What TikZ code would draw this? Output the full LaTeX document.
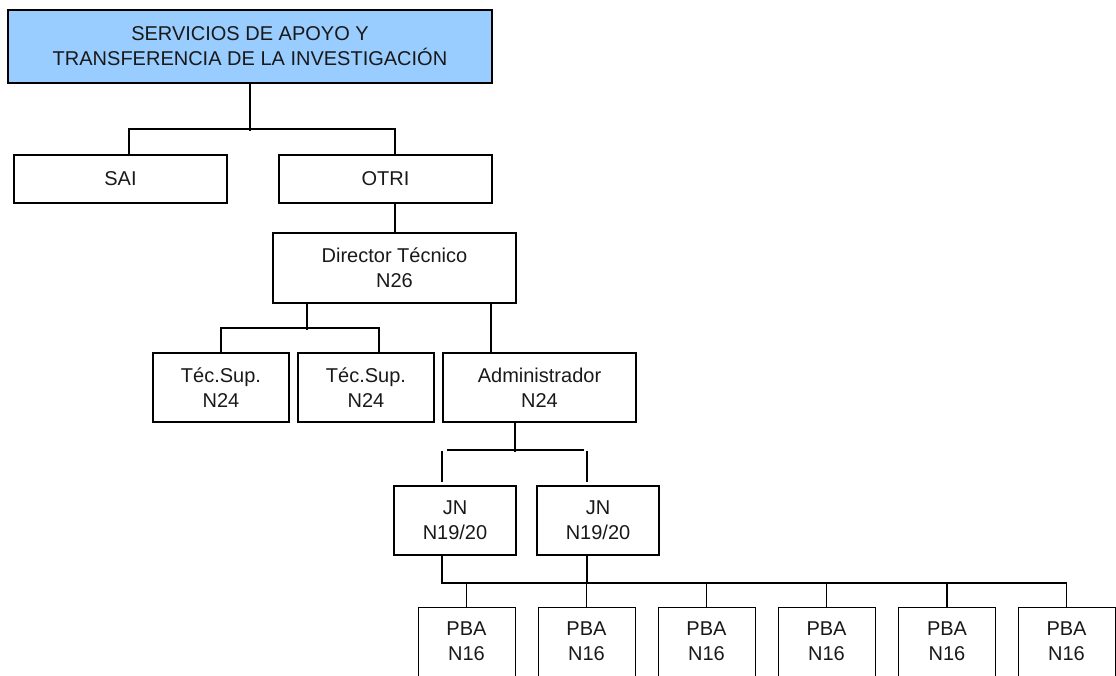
\documentclass[tikz,border=0pt]{standalone}
\usepackage{fontspec}
\setmainfont{Liberation Sans}
\definecolor{headblue}{HTML}{99CCFF}
\begin{document}
\begin{tikzpicture}[x=1pt,y=-1pt,
  unit/.style={draw=black, line width=2pt, inner sep=0pt, align=center,
    font=\fontsize{20}{25}\selectfont, text=black!90},
  pba/.style={unit, line width=1pt, minimum width=97pt, minimum height=69pt},
  link/.style={line width=2pt},
  thin link/.style={line width=1.4pt}]
\useasboundingbox (0,0) rectangle (1116,675);

% top level
\node[unit, fill=headblue, minimum width=484pt, minimum height=73pt] (top) at (250,46.5)
  {SERVICIOS DE APOYO Y\\TRANSFERENCIA DE LA INVESTIGACIÓN};
\node[unit, minimum width=213pt, minimum height=48pt] (sai) at (120.5,179) {SAI};
\node[unit, minimum width=213pt, minimum height=48pt] (otri) at (385.5,179) {OTRI};

% OTRI staff
\node[unit, minimum width=243pt, minimum height=70pt] (dir) at (394.5,268) {Director Técnico\\N26};
\node[unit, minimum width=136pt, minimum height=69pt] (tec1) at (221,387.5) {Téc.Sup.\\N24};
\node[unit, minimum width=136pt, minimum height=69pt] (tec2) at (366,387.5) {Téc.Sup.\\N24};
\node[unit, minimum width=193pt, minimum height=69pt] (adm) at (539.5,387.5) {Administrador\\N24};

% heads of unit
\node[unit, minimum width=122pt, minimum height=69pt] (jn1) at (455,520.5) {JN\\N19/20};
\node[unit, minimum width=122pt, minimum height=69pt] (jn2) at (598,520.5) {JN\\N19/20};

% base staff
\foreach \i/\x in {1/466.5, 2/586.5, 3/706.5, 4/826.5, 5/947, 6/1066.5}
  \node[pba] (p\i) at (\x,641.5) {PBA\\N16};

% connectors: top level
\draw[link] (top.south) -- ++(0,47);
\draw[link] ([xshift=8.5pt]sai.north) -- ++(0,-25) -| ([xshift=9.5pt]otri.north);
\draw[link] (otri.south -| dir.north) -- (dir.north);

% connectors: director
\draw[link] ([xshift=-87.5pt]dir.south) -- ++(0,26);
\draw[link] (tec1.north) -- ++(0,-24) -| ([xshift=13pt]tec2.north);
\draw[link] ([xshift=-48.5pt]adm.north) -- ([xshift=-48.5pt]adm.north |- dir.south);

% connectors: administrator
\draw[link] ([xshift=-24.5pt]adm.south) -- ++(0,29);
\draw[link] ([xshift=-8pt,yshift=35pt]jn1.north) -- ([xshift=-14pt,yshift=35pt]jn2.north);
\draw[link] ([xshift=-13pt,yshift=3pt]jn1.north) -- ++(0,-31);
\draw[link] ([xshift=-11pt,yshift=3pt]jn2.north) -- ++(0,-31);

% connectors: base staff
\draw[thin link] ([xshift=-13pt]jn1.south) -- ++(0,27) -| (p6.north);
\draw[thin link] ([xshift=-11pt]jn2.south) -- ++(0,27);
\foreach \i in {1,...,5}
  \draw[thin link] (p\i.north) -- ++(0,-25);
\end{tikzpicture}
\end{document}
